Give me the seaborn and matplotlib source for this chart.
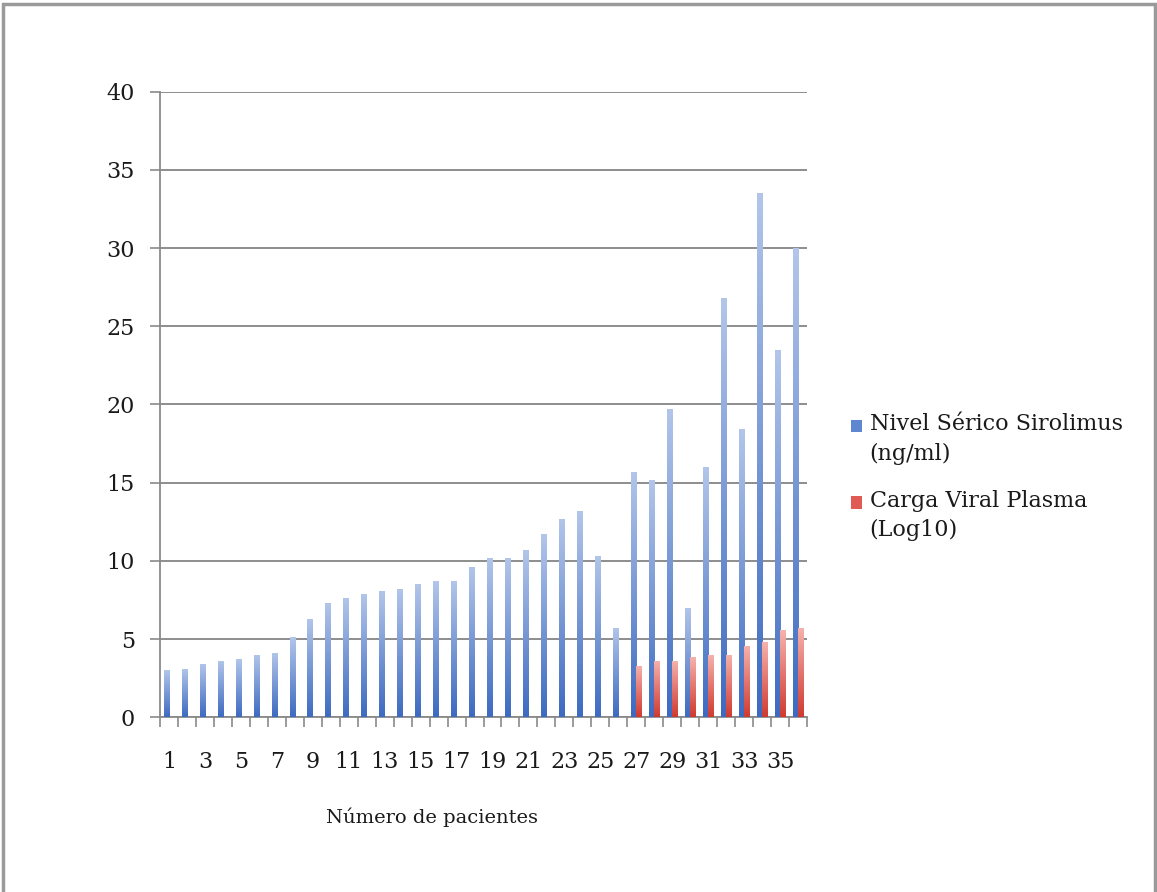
import numpy as np
import pandas as pd
import matplotlib
matplotlib.use("Agg")
import matplotlib.pyplot as plt
import seaborn as sns
from matplotlib.colors import LinearSegmentedColormap
from matplotlib.patches import Patch, Rectangle
from matplotlib.legend_handler import HandlerPatch

# Data per patient
pacientes = [str(i) for i in range(1, 37)]
sirolimus = [3.0, 3.1, 3.4, 3.6, 3.7, 4.0, 4.1, 5.1, 6.3, 7.3, 7.6, 7.9,
             8.1, 8.2, 8.5, 8.7, 8.7, 9.6, 10.2, 10.2, 10.7, 11.7, 12.7, 13.2,
             10.3, 5.7, 15.7, 15.2, 19.7, 7.0, 16.0, 26.8, 18.4, 33.5, 23.5, 30.0]
carga_pacientes = [str(i) for i in range(27, 37)]
carga_viral = [3.3, 3.6, 3.6, 3.85, 4.0, 4.0, 4.55, 4.8, 5.55, 5.7]

serie_a = "Nivel Sérico Sirolimus\n(ng/ml)"
serie_b = "Carga Viral Plasma\n(Log10)"

df = pd.concat([
    pd.DataFrame({"paciente": pacientes, "valor": sirolimus, "serie": serie_a}),
    pd.DataFrame({"paciente": carga_pacientes, "valor": carga_viral, "serie": serie_b}),
], ignore_index=True)

sns.set_theme(style="white")
plt.rcParams["font.family"] = ["DejaVu Serif"]

fig = plt.figure(figsize=(11.57, 8.92), dpi=100)
ax = fig.add_axes([0.1383, 0.1959, 0.5592, 0.7013])

blue_top, blue_bot = "#b3c6ea", "#3d6ac1"
red_top, red_bot = "#f6b3ae", "#cf3a30"

sns.barplot(data=df, x="paciente", y="valor", hue="serie",
            order=pacientes, hue_order=[serie_a, serie_b],
            palette=[blue_bot, red_bot], width=0.59, gap=0,
            errorbar=None, legend=False, ax=ax, zorder=3)

# Vertical gradient fill for every bar
grad = np.linspace(0, 1, 256).reshape(-1, 1)
for container, (top_c, bot_c) in zip(ax.containers,
                                     [(blue_top, blue_bot), (red_top, red_bot)]):
    cmap = LinearSegmentedColormap.from_list("g", [bot_c, top_c])
    for bar in container:
        h = bar.get_height()
        if not np.isfinite(h) or h == 0:
            continue
        x0, y0, w = bar.get_x(), bar.get_y(), bar.get_width()
        im = ax.imshow(grad, extent=[x0, x0 + w, y0, y0 + h], origin="lower",
                       cmap=cmap, aspect="auto", zorder=3, interpolation="bilinear")
        im.set_clip_path(bar)
        bar.set_facecolor("none")
        bar.set_edgecolor("none")

ax.set_xlim(-0.5, 35.5)
ax.set_ylim(0, 40)
ax.set_aspect("auto")

# Y axis
ax.set_yticks(range(0, 41, 5))
ax.yaxis.grid(True, color="#858585", linewidth=1.3, zorder=0)
ax.set_axisbelow(True)
ax.tick_params(axis="y", which="major", length=7, width=1.2, color="#8a8a8a",
               pad=11, labelsize=16, labelcolor="#1a1a1a", left=True)

# X axis: labels on every other patient, tick marks between categories
ax.set_xticks(range(0, 36, 2))
ax.set_xticklabels(pacientes[::2])
ax.set_xticks(np.arange(-0.5, 36, 1), minor=True)
ax.tick_params(axis="x", which="major", length=0, pad=24, labelsize=16,
               labelcolor="#1a1a1a")
ax.tick_params(axis="x", which="minor", length=7, width=1.2, color="#8a8a8a",
               bottom=True)

ax.set_ylabel("")
ax.set_xlabel("Número de pacientes", fontsize=14, color="#1a1a1a")
ax.xaxis.set_label_coords(0.42, -0.145)

for side in ["top", "right"]:
    ax.spines[side].set_visible(False)
for side in ["left", "bottom"]:
    ax.spines[side].set_color("#8a8a8a")
    ax.spines[side].set_linewidth(1.3)


# Legend: square marker aligned with the first line of each label
def square_first_line(legend, orig_handle, xdescent, ydescent, width, height, fontsize):
    return Rectangle((-xdescent, -ydescent + 0.62 * fontsize), width, height)


handles = [Patch(facecolor="#5f86d0", edgecolor="none"),
           Patch(facecolor="#e05b54", edgecolor="none")]
leg = fig.legend(handles, [serie_a, serie_b], loc="upper left",
                 bbox_to_anchor=(0.718, 0.559), frameon=False, fontsize=16,
                 handlelength=0.5, handleheight=0.5, handletextpad=0.35,
                 labelspacing=1.1, labelcolor="#1a1a1a",
                 handler_map={Patch: HandlerPatch(patch_func=square_first_line)})
for t in leg.get_texts():
    t.set_linespacing(1.45)

# Outer frame
fig.patches.append(Rectangle((0.003, -0.02), 0.995, 1.0155, transform=fig.transFigure,
                             fill=False, edgecolor="#9a9a9a", linewidth=2.5))

fig.savefig("out.png", dpi=100)
